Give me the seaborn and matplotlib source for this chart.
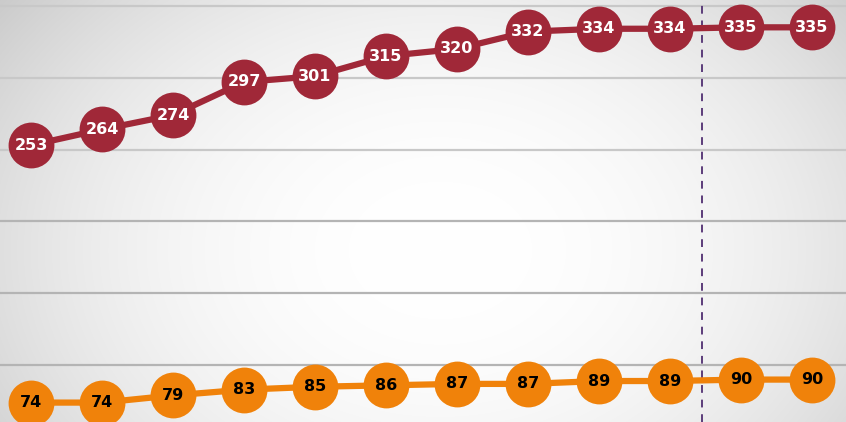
import numpy as np
import pandas as pd
import seaborn as sns
import matplotlib.pyplot as plt

# Данные
periods = list(range(1, 13))
red_values = [253, 264, 274, 297, 301, 315, 320, 332, 334, 334, 335, 335]
orange_values = [74, 74, 79, 83, 85, 86, 87, 87, 89, 89, 90, 90]
grid_values = [100, 150, 200, 250, 300, 350]
split_position = 10.45  # пунктирная линия между 10 и 11 периодом

RED = "#A02838"
ORANGE = "#F0820A"

df = pd.DataFrame({
    "Период": periods * 2,
    "Значение": red_values + orange_values,
    "Ряд": ["red"] * len(red_values) + ["orange"] * len(orange_values),
})

sns.set_theme(style="white")
plt.rcParams["font.family"] = ["DejaVu Sans"]

W, H = 846, 422
fig = plt.figure(figsize=(W / 100, H / 100), dpi=100)

# Радиальный градиент фона
yy, xx = np.mgrid[0:H, 0:W]
r = np.sqrt(((xx - 440) / 480) ** 2 + ((yy - 250) / 360) ** 2)
shade = 1 - 0.15 * np.clip(r, 0, 1.3) ** 2.2
bg = np.dstack([shade, shade, shade])
fig.figimage(bg, xo=0, yo=0, origin="upper", zorder=-5)

ax = fig.add_axes([0, 0, 1, 1])
ax.set_facecolor("none")
ax.set_zorder(2)

for v in grid_values:
    col = "#c8c8c8" if v >= 250 else "#b4b4b4"
    ax.axhline(v, color=col, lw=1.6, zorder=1)

ax.axvline(split_position, color="#5c3d7a", lw=1.4, ls=(0, (4, 3.5)), zorder=1)

sns.lineplot(
    data=df, x="Период", y="Значение", hue="Ряд",
    palette={"red": RED, "orange": ORANGE},
    marker="o", markersize=33, markeredgewidth=0, linewidth=4.5,
    legend=False, ax=ax, zorder=3,
)

for x, v in zip(periods, red_values):
    ax.text(x, v, str(v), ha="center", va="center", color="white",
            fontsize=11.5, fontweight="bold", zorder=5)
for x, v in zip(periods, orange_values):
    ax.text(x, v, str(v), ha="center", va="center", color="black",
            fontsize=11.5, fontweight="bold", zorder=5)

ax.set_xlim(0.563, 12.479)
ax.set_ylim(60.5, 354)
ax.set_xticks([])
ax.set_yticks([])
ax.set_xlabel("")
ax.set_ylabel("")
for s in ax.spines.values():
    s.set_visible(False)

fig.savefig("out.png", dpi=100)
plt.close(fig)
